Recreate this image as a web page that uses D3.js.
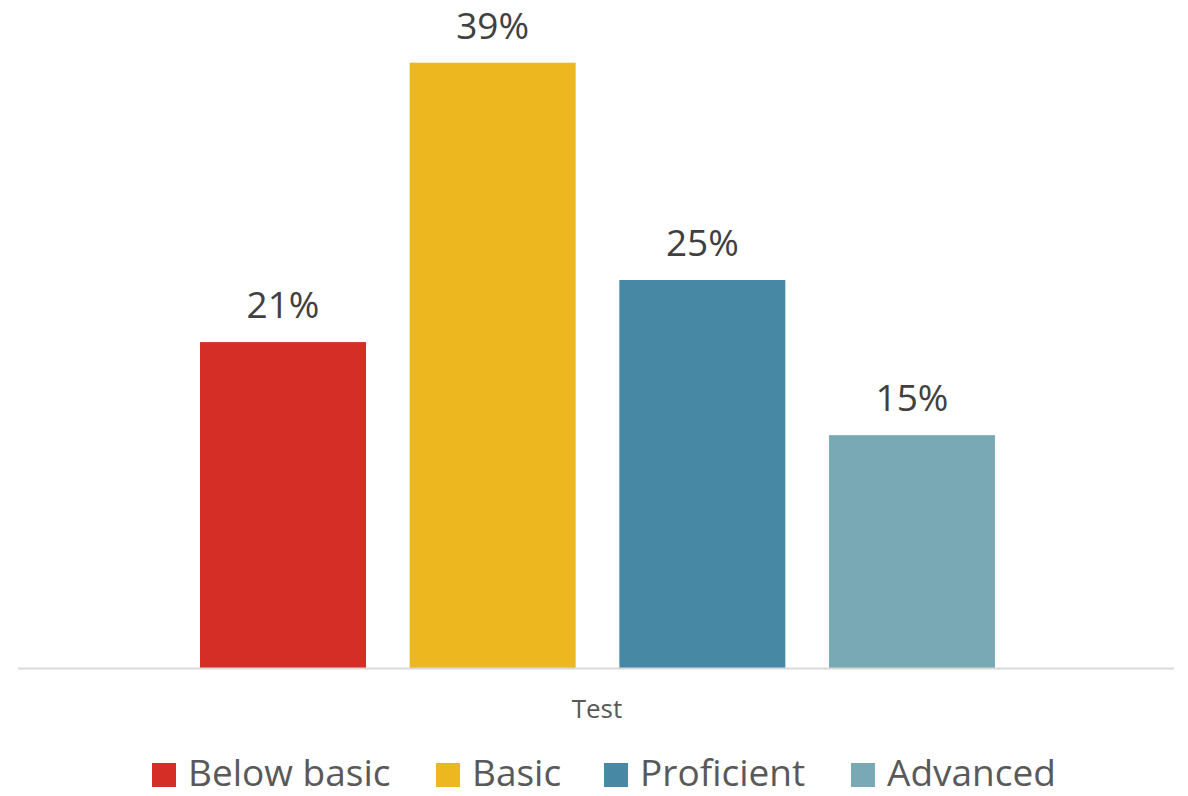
<!DOCTYPE html>
<html>
<head>
<meta charset="utf-8">
<script src="https://cdn.jsdelivr.net/npm/d3@7"></script>
<style>
  html, body { margin: 0; padding: 0; background: #fff; }
  svg { display: block; font-family: "Open Sans", "Liberation Sans", sans-serif; }
</style>
</head>
<body>
<svg id="chart" width="1188" height="796"></svg>
<script>
// Share of students at each performance level
const categories = ["Below basic", "Basic", "Proficient", "Advanced"];
const values = [21, 39, 25, 15];
const colors = ["#D52E27", "#EDB71F", "#4788A4", "#78A9B4"];
const groupLabel = "Test";

const svg = d3.select("#chart");
const baseY = 668;
const plotLeft = 18, plotRight = 1174;

// Linear value scale: 1 percentage point ≈ 15.52px
const y = d3.scaleLinear().domain([0, 40]).range([baseY, baseY - 40 * 15.52]);

// Band scale for the four bars within the single group
const x = d3.scaleBand()
  .domain(categories)
  .range([200, 995])
  .paddingInner(0.2083)
  .paddingOuter(0);

// Bars
svg.append("g").selectAll("rect")
  .data(values)
  .join("rect")
  .attr("x", (d, i) => x(categories[i]))
  .attr("y", d => y(d))
  .attr("width", x.bandwidth())
  .attr("height", d => y(0) - y(d))
  .attr("fill", (d, i) => colors[i]);

// Baseline
svg.append("line")
  .attr("x1", plotLeft).attr("x2", plotRight)
  .attr("y1", baseY + 0.5).attr("y2", baseY + 0.5)
  .attr("stroke", "#D9D9D9").attr("stroke-width", 2);

// Value labels
svg.append("g").selectAll("text")
  .data(values)
  .join("text")
  .attr("x", (d, i) => x(categories[i]) + x.bandwidth() / 2)
  .attr("y", d => y(d) - 24)
  .attr("text-anchor", "middle")
  .attr("font-size", 37)
  .attr("fill", "#404040")
  .text(d => d + "%");

// Category axis label
svg.append("text")
  .attr("x", 597)
  .attr("y", 718)
  .attr("text-anchor", "middle")
  .attr("font-size", 26)
  .attr("fill", "#595959")
  .text(groupLabel);

// Legend
const legendX = [152, 436, 604, 851];
const legend = svg.append("g").selectAll("g")
  .data(categories)
  .join("g")
  .attr("transform", (d, i) => `translate(${legendX[i]},763)`);
legend.append("rect")
  .attr("width", 24).attr("height", 24)
  .attr("fill", (d, i) => colors[i]);
legend.append("text")
  .attr("x", 36)
  .attr("y", 23)
  .attr("font-size", 37)
  .attr("fill", "#595959")
  .text(d => d);
</script>
</body>
</html>
